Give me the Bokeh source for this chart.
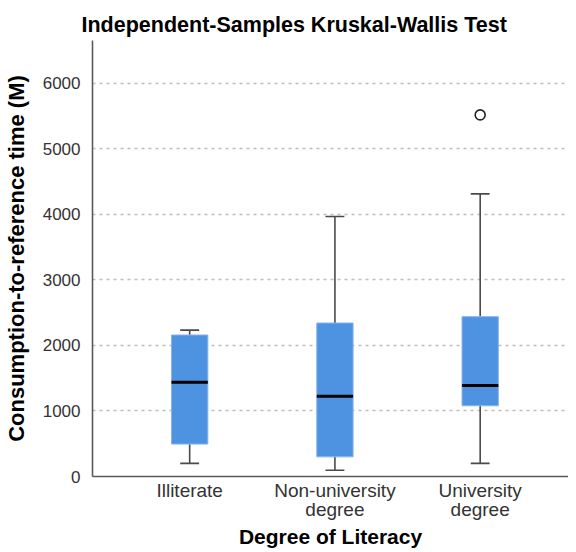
from bokeh.plotting import figure
from bokeh.models import FixedTicker, Range1d
from bokeh.embed import file_html
from bokeh.resources import INLINE

# ---- data ----
categories = ["Illiterate", "Non-university\ndegree", "University\ndegree"]
positions = [1, 2, 3]
whisker_low = [200, 95, 200]
q1 = [495, 300, 1080]
median = [1437, 1226, 1390]
q3 = [2160, 2343, 2440]
whisker_high = [2235, 3970, 4315]
outlier_pos = [3]
outlier_val = [5520]
y_ticks = [0, 1000, 2000, 3000, 4000, 5000, 6000]

title_text = "Independent-Samples Kruskal-Wallis Test"
x_title = "Degree of Literacy"
y_title = "Consumption-to-reference time (M)"

box_w = 0.25
cap_w = 0.13

p = figure(width=568, height=551, output_backend="svg", toolbar_location=None,
           x_range=Range1d(0.331, 3.608), y_range=Range1d(0, 6656),
           min_border_left=83, min_border_right=0, min_border_top=40, min_border_bottom=75)
p.outline_line_color = None
p.background_fill_color = "white"

# title
p.title.text = title_text
p.title.text_font = "Liberation Sans"
p.title.text_font_size = "21.5px"
p.title.text_font_style = "bold"
p.title.text_color = "black"
p.title.align = "left"
p.title.offset = -11
p.title.standoff = 7

# whiskers
p.segment(x0=positions, y0=q3, x1=positions, y1=whisker_high, line_color="#4a4a4a", line_width=1.6)
p.segment(x0=positions, y0=whisker_low, x1=positions, y1=q1, line_color="#4a4a4a", line_width=1.6)
p.segment(x0=[x - cap_w / 2 for x in positions], y0=whisker_high,
          x1=[x + cap_w / 2 for x in positions], y1=whisker_high, line_color="#4a4a4a", line_width=1.6)
p.segment(x0=[x - cap_w / 2 for x in positions], y0=whisker_low,
          x1=[x + cap_w / 2 for x in positions], y1=whisker_low, line_color="#4a4a4a", line_width=1.6)

# boxes
p.vbar(x=positions, width=box_w, bottom=q1, top=q3, fill_color="#4E93E1",
       line_color="#86B4EA", line_width=1)
# medians
p.segment(x0=[x - box_w / 2 for x in positions], y0=median,
          x1=[x + box_w / 2 for x in positions], y1=median, line_color="black", line_width=3)

# outlier
p.scatter(x=outlier_pos, y=outlier_val, marker="circle", size=10, fill_color="white",
          line_color="#222222", line_width=1.6)

# axes
p.xaxis.ticker = FixedTicker(ticks=positions)
p.xaxis.major_label_overrides = {pos: lab for pos, lab in zip(positions, categories)}
p.yaxis.ticker = FixedTicker(ticks=y_ticks)
for ax in (p.xaxis, p.yaxis):
    ax.axis_line_color = "#5a5a5a"
    ax.axis_line_width = 1.6
    ax.major_tick_line_color = None
    ax.minor_tick_line_color = None
    ax.major_label_text_font = "Liberation Sans"
    ax.major_label_text_color = "#333333"
    ax.axis_label_text_font = "Liberation Sans"
    ax.axis_label_text_font_style = "bold"
    ax.axis_label_text_color = "black"

p.xaxis.major_label_text_font_size = "19px"
p.xaxis.major_label_text_line_height = 0.92
p.xaxis.major_label_standoff = -3
p.xaxis.axis_label = x_title
p.xaxis.axis_label_text_font_size = "21px"
p.xaxis.axis_label_text_line_height = 0.8
p.xaxis.axis_label_standoff = 2

p.yaxis.major_label_text_font_size = "17px"
p.yaxis.major_label_standoff = 6
p.yaxis.axis_label = y_title
p.yaxis.axis_label_text_font_size = "22px"
p.yaxis.axis_label_standoff = 11

p.xgrid.grid_line_color = None
p.ygrid.ticker = FixedTicker(ticks=y_ticks[1:])
p.ygrid.grid_line_color = "#bdbdbd"
p.ygrid.grid_line_dash = "3 4"
p.ygrid.grid_line_width = 1.5

open("out.html", "w").write(file_html(p, INLINE))
